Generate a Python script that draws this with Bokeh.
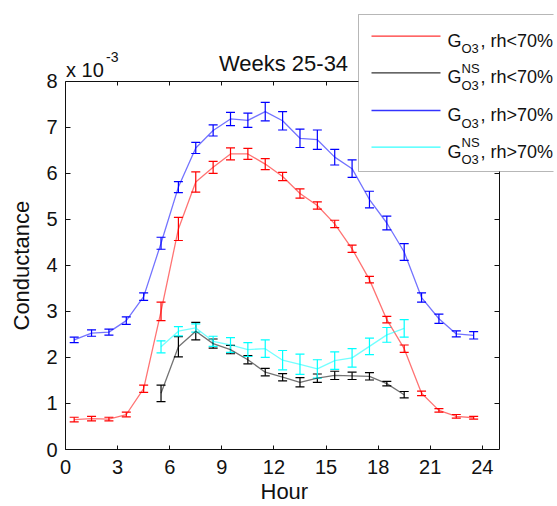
from bokeh.plotting import figure
from bokeh.models import (Range1d, FixedTicker, LinearAxis, Whisker, TeeHead, Title,
                          ColumnDataSource, Label, BoxAnnotation, PolyAnnotation)
from bokeh.embed import file_html
from bokeh.resources import INLINE

# ---------------- data (conductance in units of 1e-3) ----------------
hours = [0.5, 1.5, 2.5, 3.5, 4.5, 5.5, 6.5, 7.5, 8.5, 9.5, 10.5, 11.5,
         12.5, 13.5, 14.5, 15.5, 16.5, 17.5, 18.5, 19.5, 20.5, 21.5, 22.5, 23.5]
hours_ns = [5.5, 6.5, 7.5, 8.5, 9.5, 10.5, 11.5, 12.5, 13.5, 14.5, 15.5,
            16.5, 17.5, 18.5, 19.5]

g_low = [0.65, 0.67, 0.66, 0.76, 1.32, 3.00, 4.79, 5.81, 6.13, 6.42, 6.42, 6.20,
         5.93, 5.56, 5.30, 4.90, 4.36, 3.69, 2.82, 2.19, 1.22, 0.85, 0.72, 0.69]
g_low_err = [0.05, 0.05, 0.04, 0.05, 0.08, 0.20, 0.25, 0.22, 0.13, 0.13, 0.12, 0.12,
             0.09, 0.10, 0.08, 0.08, 0.08, 0.07, 0.07, 0.08, 0.05, 0.04, 0.04, 0.03]

gns_low = [1.22, 2.23, 2.57, 2.30, 2.17, 1.95, 1.68, 1.57, 1.46, 1.55, 1.61,
           1.60, 1.59, 1.43, 1.19]
gns_low_err = [0.18, 0.22, 0.19, 0.10, 0.09, 0.09, 0.08, 0.08, 0.10, 0.09, 0.09,
               0.08, 0.08, 0.05, 0.07]

g_high = [2.38, 2.53, 2.55, 2.80, 3.32, 4.48, 5.70, 6.55, 6.93, 7.18, 7.15, 7.34,
          7.14, 6.76, 6.73, 6.35, 6.10, 5.43, 4.92, 4.29, 3.30, 2.84, 2.51, 2.48]
g_high_err = [0.06, 0.07, 0.065, 0.08, 0.08, 0.13, 0.12, 0.12, 0.12, 0.145, 0.155, 0.20,
              0.20, 0.20, 0.21, 0.17, 0.19, 0.18, 0.15, 0.18, 0.10, 0.10, 0.065, 0.08]

gns_high = [2.23, 2.57, 2.64, 2.35, 2.27, 2.17, 2.19, 1.94, 1.85, 1.75, 1.93,
            1.99, 2.24, 2.49, 2.63]
gns_high_err = [0.13, 0.10, 0.09, 0.11, 0.16, 0.15, 0.19, 0.21, 0.22, 0.20, 0.19,
                0.20, 0.18, 0.16, 0.19]

x_ticks = [0, 3, 6, 9, 12, 15, 18, 21, 24]
y_ticks = [0, 1, 2, 3, 4, 5, 6, 7, 8]
x_lim = (0, 25)
y_lim = (0, 8)

series = [
    ("G", "O3", None, ", rh<70%", hours, g_low, g_low_err, "#ff0000"),
    ("G", "O3", "NS", ", rh<70%", hours_ns, gns_low, gns_low_err, "#000000"),
    ("G", "O3", None, ", rh>70%", hours, g_high, g_high_err, "#0000ff"),
    ("G", "O3", "NS", ", rh>70%", hours_ns, gns_high, gns_high_err, "#00ffff"),
]

FONT = "Liberation Sans"
INK = "#111111"

# ---------------- layout (pixels) ----------------
W, H = 557, 506
FL, FR, FT, FB = 63, 553, 4, 449          # frame edges on the canvas
AX_R, AX_T = 499, 80.7                    # where x=25 and y=8 sit (axes box)
x_end = x_lim[1] * (FR - FL) / (AX_R - FL)
y_end = y_lim[1] * (FB - FT) / (FB - AX_T)

p = figure(width=W, height=H, x_range=Range1d(0, x_end), y_range=Range1d(0, y_end),
           output_backend="svg", toolbar_location=None,
           min_border_left=FL, min_border_right=W - FR, min_border_top=FT,
           min_border_bottom=H - FB, x_axis_type=None, y_axis_type=None)
p.title.visible = False
p.xgrid.visible = False
p.ygrid.visible = False
p.outline_line_color = None
p.background_fill_color = "white"
p.border_fill_color = "white"


def make_axis(ticks, bounds, tick_len):
    ax = LinearAxis(ticker=FixedTicker(ticks=ticks), bounds=bounds)
    ax.major_tick_in = tick_len
    ax.major_tick_out = 0
    ax.minor_tick_in = 0
    ax.minor_tick_out = 0
    ax.minor_tick_line_color = None
    ax.axis_line_color = INK
    ax.major_tick_line_color = INK
    ax.axis_line_width = 1
    ax.major_label_text_font = FONT
    ax.major_label_text_font_size = "20px"
    ax.major_label_text_color = INK
    return ax


def make_box_side(ticks, bounds, tick_len, fixed):
    # opposite box side: tick marks only (as minor ticks, so no labels are drawn)
    ax = LinearAxis(ticker=FixedTicker(ticks=[], minor_ticks=ticks), bounds=bounds)
    ax.fixed_location = fixed
    ax.major_tick_in = 0
    ax.major_tick_out = 0
    ax.minor_tick_in = tick_len
    ax.minor_tick_out = 0
    ax.minor_tick_line_color = INK
    ax.axis_line_color = INK
    ax.axis_line_width = 1
    ax.major_label_standoff = 0
    ax.major_label_text_font_size = "0px"
    return ax


xb = make_axis(x_ticks, x_lim, 4)
xb.major_label_standoff = 10
yl = make_axis(y_ticks, y_lim, 5)
yl.major_label_standoff = 8
p.add_layout(xb, "below")
p.add_layout(yl, "left")
p.add_layout(make_box_side(x_ticks, x_lim, 4, y_lim[1]), "above")
p.add_layout(make_box_side(y_ticks, y_lim, 5, x_lim[1]), "right")

# axis titles
p.add_layout(Title(text="Hour", align="left", offset=195, vertical_align="bottom",
                   standoff=0, text_font=FONT, text_font_size="22px",
                   text_font_style="normal", text_color=INK), "below")
p.add_layout(Title(text="Conductance", align="left", offset=119, vertical_align="top",
                   standoff=16, text_font=FONT, text_font_size="22px",
                   text_font_style="normal", text_color=INK), "left")

for _, _, _, _, xs, ys, es, col in series:
    src = ColumnDataSource(dict(x=xs, y=ys,
                                lo=[a - b for a, b in zip(ys, es)],
                                hi=[a + b for a, b in zip(ys, es)]))
    p.line("x", "y", source=src, line_color=col, line_width=1.3, line_alpha=0.55)
    p.add_layout(Whisker(source=src, base="x", lower="lo", upper="hi",
                         line_color=col, line_width=1.2,
                         lower_head=TeeHead(size=9, line_color=col, line_width=1.2),
                         upper_head=TeeHead(size=9, line_color=col, line_width=1.2)))


# helpers: canvas pixel -> frame screen units (annotations only)
def sx(px):
    return px - FL


def sy(py):
    return FB - py


def lab(text, x, y, size, align="left"):
    p.add_layout(Label(x=x, y=y, x_units="screen", y_units="screen", text=text,
                       text_font=FONT, text_font_size=size, text_color=INK,
                       text_align=align, text_baseline="alphabetic"))


# title and exponent
lab("Weeks 25-34", sx(281), sy(63), "22px", "center")
lab("x 10", sx(63.5), sy(69.3), "20px")
lab("-3", sx(103.5), sy(56), "14px")

# legend (drawn manually to get sub/superscripts)
p.add_layout(BoxAnnotation(left=sx(356), right=sx(640), top=sy(14), bottom=sy(171),
                           left_units="screen", right_units="screen",
                           top_units="screen", bottom_units="screen",
                           fill_color="white", fill_alpha=1.0,
                           line_color=INK, line_width=1))
rows = [35.7, 72.3, 110.0, 146.7]
for (g, sub, sup, rest, _, _, _, col), ry in zip(series, rows):
    p.add_layout(PolyAnnotation(xs=[sx(369), sx(438), sx(438), sx(369)],
                                ys=[sy(ry)] * 4, xs_units="screen", ys_units="screen",
                                fill_color=None, line_color=col, line_width=1.3,
                                line_alpha=0.8))
    base = ry + 4.5
    lab(g, sx(445), sy(base), "18px")
    lab(sub, sx(459), sy(base + 8), "13px")
    if sup:
        lab(sup, sx(459), sy(base - 9), "13px")
    lab(rest, sx(478), sy(base), "18px")

open("out.html", "w").write(file_html(p, INLINE))
